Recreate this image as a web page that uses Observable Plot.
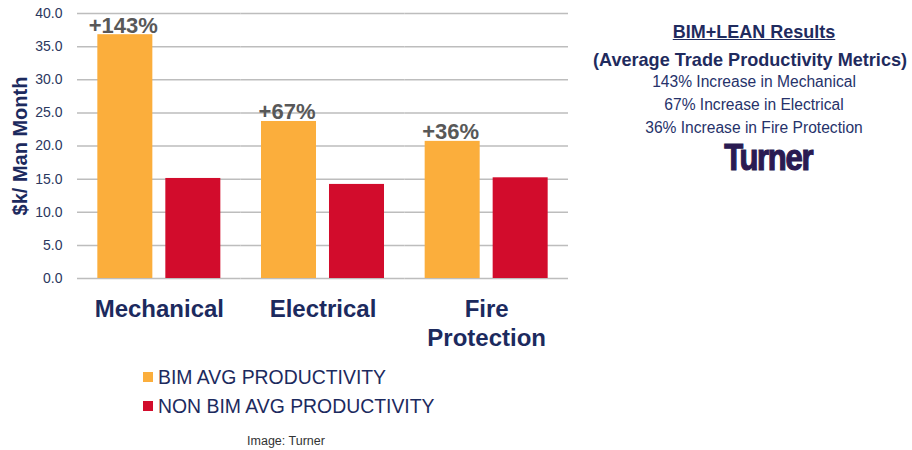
<!DOCTYPE html>
<html>
<head>
<meta charset="utf-8">
<script src="https://cdn.jsdelivr.net/npm/d3@7"></script>
<script src="https://cdn.jsdelivr.net/npm/@observablehq/plot@0.6"></script>
<style>
  body { margin: 0; background: #fff; font-family: "Liberation Sans", Arial, sans-serif; }
  #wrap { position: relative; width: 912px; height: 450px; overflow: hidden; }
  #chart { position: absolute; left: 0; top: 0; }
  .abs { position: absolute; white-space: nowrap; }
  .panel { left: 590px; width: 328px; text-align: center; color: #1f2b5e; }
</style>
</head>
<body>
<div id="wrap">
  <div id="chart"></div>
</div>
<script>
// ---- data ----
const categories = ["Mechanical", "Electrical", "Fire Protection"];
const categoryLabels = ["Mechanical", "Electrical", "Fire\nProtection"];
const series = ["BIM AVG PRODUCTIVITY", "NON BIM AVG PRODUCTIVITY"];
const bimValues = [36.8, 23.7, 20.7];
const nonBimValues = [15.1, 14.2, 15.2];
const increaseLabels = ["+143%", "+67%", "+36%"];
const yTicks = [0, 5, 10, 15, 20, 25, 30, 35, 40];
const yLabel = "$k/ Man Month";
const panelTitle = "BIM+LEAN Results";
const panelSubtitle = "(Average Trade Productivity Metrics)";
const panelLines = ["143% Increase in Mechanical", "67% Increase in Electrical", "36% Increase in Fire Protection"];
const logoText = "Turner";
const captionText = "Image: Turner";
const colors = ["#FBAE3C", "#D20C2C"];

// ---- tidy table ----
const rows = [];
categories.forEach((c, i) => {
  rows.push({cat: c, series: series[0], value: bimValues[i], label: increaseLabels[i]});
  rows.push({cat: c, series: series[1], value: nonBimValues[i], label: null});
});
const bimRows = rows.filter(r => r.series === series[0]);
const catRows = categories.map((c, i) => ({cat: c, text: categoryLabels[i]}));

const navy = "#1c2a5e";

const chart = Plot.plot({
  width: 912,
  height: 360,
  marginLeft: 77,
  marginRight: 344,
  marginTop: 13,
  marginBottom: 82,
  style: {fontFamily: "'Liberation Sans', Arial, sans-serif", fontSize: "14px", color: "#2b375e", background: "transparent"},
  fx: {domain: categories, padding: 0, axis: null, round: false},
  x: {domain: series, paddingInner: 0.191, paddingOuter: 0.299, axis: null, round: false},
  y: {domain: [0, 40], ticks: yTicks, tickFormat: d => d.toFixed(1), tickSize: 0, tickPadding: 15, label: null},
  color: {domain: series, range: colors},
  marks: [
    Plot.ruleY(yTicks, {stroke: "#bdbdbd", strokeWidth: 1.5}),
    Plot.barY(rows, {fx: "cat", x: "series", y: "value", fill: "series"}),
    Plot.text(bimRows, {fx: "cat", x: "series", y: "value", text: "label", lineAnchor: "bottom", dy: -2, dx: -2,
      fontSize: 22, fontWeight: "bold", fill: "#585858"}),
    Plot.text(catRows, {fx: "cat", text: "text", frameAnchor: "bottom", lineAnchor: "top", dy: 18, lineHeight: 1.2,
      fontSize: 24, fontWeight: "bold", fill: navy})
  ]
});
document.getElementById("chart").appendChild(chart);

// ---- HTML annotations: y label, legend, caption, right panel ----
const wrap = document.getElementById("wrap");
function add(html, css, cls) {
  const d = document.createElement("div");
  d.className = "abs " + (cls || "");
  d.textContent = html;
  Object.assign(d.style, css);
  wrap.appendChild(d);
  return d;
}
// y axis label (rotated)
add(yLabel, {left: (20 - 100) + "px", top: (146 - 11) + "px", width: "200px", height: "22px", lineHeight: "22px",
  textAlign: "center", transform: "rotate(-90deg)", transformOrigin: "50% 50%", fontSize: "20px", fontWeight: "bold", color: navy});

// legend
const legendY = [377, 406];
series.forEach((s, i) => {
  const sw = document.createElement("div");
  sw.className = "abs";
  Object.assign(sw.style, {left: "143px", top: (legendY[i] - 5) + "px", width: "10px", height: "10px", background: colors[i]});
  wrap.appendChild(sw);
  add(s, {left: "158px", top: (legendY[i] - 12) + "px", height: "24px", lineHeight: "24px", fontSize: "19.4px", color: navy});
});

// caption
add(captionText, {left: "186px", width: "200px", textAlign: "center", top: (441 - 8) + "px", height: "16px", lineHeight: "16px",
  fontSize: "12.5px", color: "#333"});

// right panel
add(panelTitle, {top: (32 - 11) + "px", height: "22px", lineHeight: "22px", fontSize: "18px", fontWeight: "bold", textDecoration: "underline"}, "panel");
add(panelSubtitle, {left: "586px", top: (60 - 11) + "px", height: "22px", lineHeight: "22px", fontSize: "18.1px", fontWeight: "bold"}, "panel");
const lineY = [82, 105, 127.5];
panelLines.forEach((l, i) => {
  add(l, {top: (lineY[i] - 10) + "px", height: "20px", lineHeight: "20px", fontSize: "15.6px", color: "#26326a"}, "panel");
});
const logoWrap = add("", {left: "668px", width: "200px", textAlign: "center", top: (158 - 20) + "px", height: "40px", lineHeight: "40px"});
const logo = document.createElement("span");
logo.textContent = logoText;
Object.assign(logo.style, {display: "inline-block", fontSize: "36px", fontWeight: "900", color: "#2a1b52", letterSpacing: "-1.5px",
  transform: "scaleX(0.86)", webkitTextStroke: "1.2px #2a1b52"});
logoWrap.appendChild(logo);
</script>
</body>
</html>
